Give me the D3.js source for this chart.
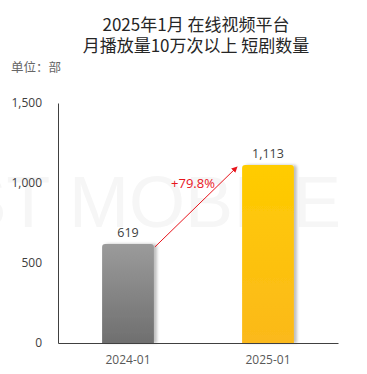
<!doctype html>
<html lang="zh">
  <head>
    <meta charset="utf-8">
    <title>短剧数量</title>
    <style>
      body { margin: 0; background: #fff; }
      svg text { font-family: "Noto Sans CJK SC", "Open Sans", sans-serif; }
    </style>
  </head>
  <body>
    <div id="chart"></div>

    <script src="https://d3js.org/d3.v7.min.js"></script>
    <script>
      // Data
      var months = ["2024-01", "2025-01"];
      var counts = [619, 1113];
      var yTicks = [0, 500, 1000, 1500];
      var growthLabel = "+79.8%";
      var titleLines = ["2025年1月 在线视频平台", "月播放量10万次以上 短剧数量"];

      var W = 367, H = 374;
      var margin = {top: 103, right: 29, bottom: 31, left: 58},
          width = W - margin.left - margin.right,
          height = H - margin.top - margin.bottom;

      var svg = d3.select("#chart").append("svg")
        .attr("width", W)
        .attr("height", H);

      // gradients + shadow
      var defs = svg.append("defs");
      var g1 = defs.append("linearGradient").attr("id", "gGray")
        .attr("x1", 0).attr("y1", 0).attr("x2", 0).attr("y2", 1);
      g1.append("stop").attr("offset", "0%").attr("stop-color", "#9b9b9b");
      g1.append("stop").attr("offset", "100%").attr("stop-color", "#6f6f6f");
      var g2 = defs.append("linearGradient").attr("id", "gGold")
        .attr("x1", 0).attr("y1", 0).attr("x2", 0).attr("y2", 1);
      g2.append("stop").attr("offset", "0%").attr("stop-color", "#ffcc00");
      g2.append("stop").attr("offset", "100%").attr("stop-color", "#fbb91b");
      var sh = defs.append("filter").attr("id", "shadow")
        .attr("x", "-20%").attr("y", "-10%").attr("width", "150%").attr("height", "120%");
      sh.append("feDropShadow").attr("dx", 3).attr("dy", 0).attr("stdDeviation", 1.5)
        .attr("flood-color", "#000").attr("flood-opacity", 0.25);
      defs.append("marker").attr("id", "arrow")
        .attr("viewBox", "0 0 10 10").attr("refX", 9).attr("refY", 5)
        .attr("markerWidth", 6).attr("markerHeight", 6).attr("orient", "auto")
        .append("path").attr("d", "M0,0 L10,5 L0,10 z").attr("fill", "#e8141c");

      // Title
      svg.selectAll(".title").data(titleLines).enter().append("text")
        .attr("x", 196)
        .attr("y", function(d, i) { return 31 + i * 21; })
        .attr("text-anchor", "middle")
        .attr("font-size", "17px")
        .attr("fill", "#262626")
        .text(function(d) { return d; });

      svg.append("text")
        .attr("x", 11).attr("y", 72)
        .attr("font-size", "12.5px")
        .attr("fill", "#666")
        .text("单位：部");

      var g = svg.append("g")
        .attr("transform", "translate(" + margin.left + "," + margin.top + ")");

      // watermark (very faint, sits behind the bars)
      g.append("text")
        .attr("x", 283).attr("y", 124)
        .attr("text-anchor", "end")
        .attr("font-size", "72px")
        .attr("fill", "#f6f6f6")
        .style("font-family", "Liberation Sans, Arial, sans-serif")
        .text("QUEST MOBILE");

      var x = d3.scaleBand().domain(months).range([0, width]).paddingInner(0.63).paddingOuter(0.315);
      var y = d3.scaleLinear().domain([0, 1500]).range([height, 0]);

      // Y axis
      var yAxis = g.append("g")
        .call(d3.axisLeft(y).tickValues(yTicks).tickSize(0).tickPadding(16).tickFormat(d3.format(",")));
      yAxis.select(".domain").attr("stroke", "#404040");
      yAxis.selectAll("text").attr("font-size", "12px").attr("fill", "#404040")
        .style("font-family", "Open Sans, sans-serif");

      // Bars
      var fills = ["url(#gGray)", "url(#gGold)"];
      g.selectAll(".bar").data(counts).enter().append("path")
        .attr("filter", "url(#shadow)")
        .attr("fill", function(d, i) { return fills[i]; })
        .attr("d", function(d, i) {
          var x0 = x(months[i]), w = x.bandwidth(), y0 = y(d), r = 3;
          return "M" + x0 + "," + height + "V" + (y0 + r) +
            "Q" + x0 + "," + y0 + " " + (x0 + r) + "," + y0 +
            "H" + (x0 + w - r) + "Q" + (x0 + w) + "," + y0 + " " + (x0 + w) + "," + (y0 + r) +
            "V" + height + "Z";
        });

      // X axis
      var xAxis = g.append("g")
        .attr("transform", "translate(0," + height + ")")
        .call(d3.axisBottom(x).tickSize(0).tickPadding(12).tickSizeOuter(0));
      xAxis.select(".domain").attr("stroke", "#404040");
      xAxis.selectAll("text").attr("font-size", "12px").attr("fill", "#595959")
        .style("font-family", "Open Sans, sans-serif");

      // value labels
      g.selectAll(".val").data(counts).enter().append("text")
        .attr("x", function(d, i) { return x(months[i]) + x.bandwidth() / 2; })
        .attr("y", function(d) { return y(d) - 7; })
        .attr("text-anchor", "middle")
        .attr("font-size", "12.5px")
        .attr("fill", "#404040")
        .style("font-family", "Open Sans, sans-serif")
        .text(d3.format(","));

      // growth arrow
      var ax1 = x(months[0]) + x.bandwidth() + 1, ay1 = y(counts[0]) + 3;
      var ax2 = x(months[1]) - 5, ay2 = y(counts[1]) + 2;
      g.append("line")
        .attr("x1", ax1).attr("y1", ay1).attr("x2", ax2).attr("y2", ay2)
        .attr("stroke", "#e8141c").attr("stroke-width", 1)
        .attr("marker-end", "url(#arrow)");

      g.append("text")
        .attr("x", (ax1 + ax2) / 2 - 3)
        .attr("y", y(counts[1]) + 23)
        .attr("text-anchor", "middle")
        .attr("font-size", "13px")
        .attr("fill", "#e8141c")
        .style("font-family", "Open Sans, sans-serif")
        .text(growthLabel);
    </script>
  </body>
</html>
